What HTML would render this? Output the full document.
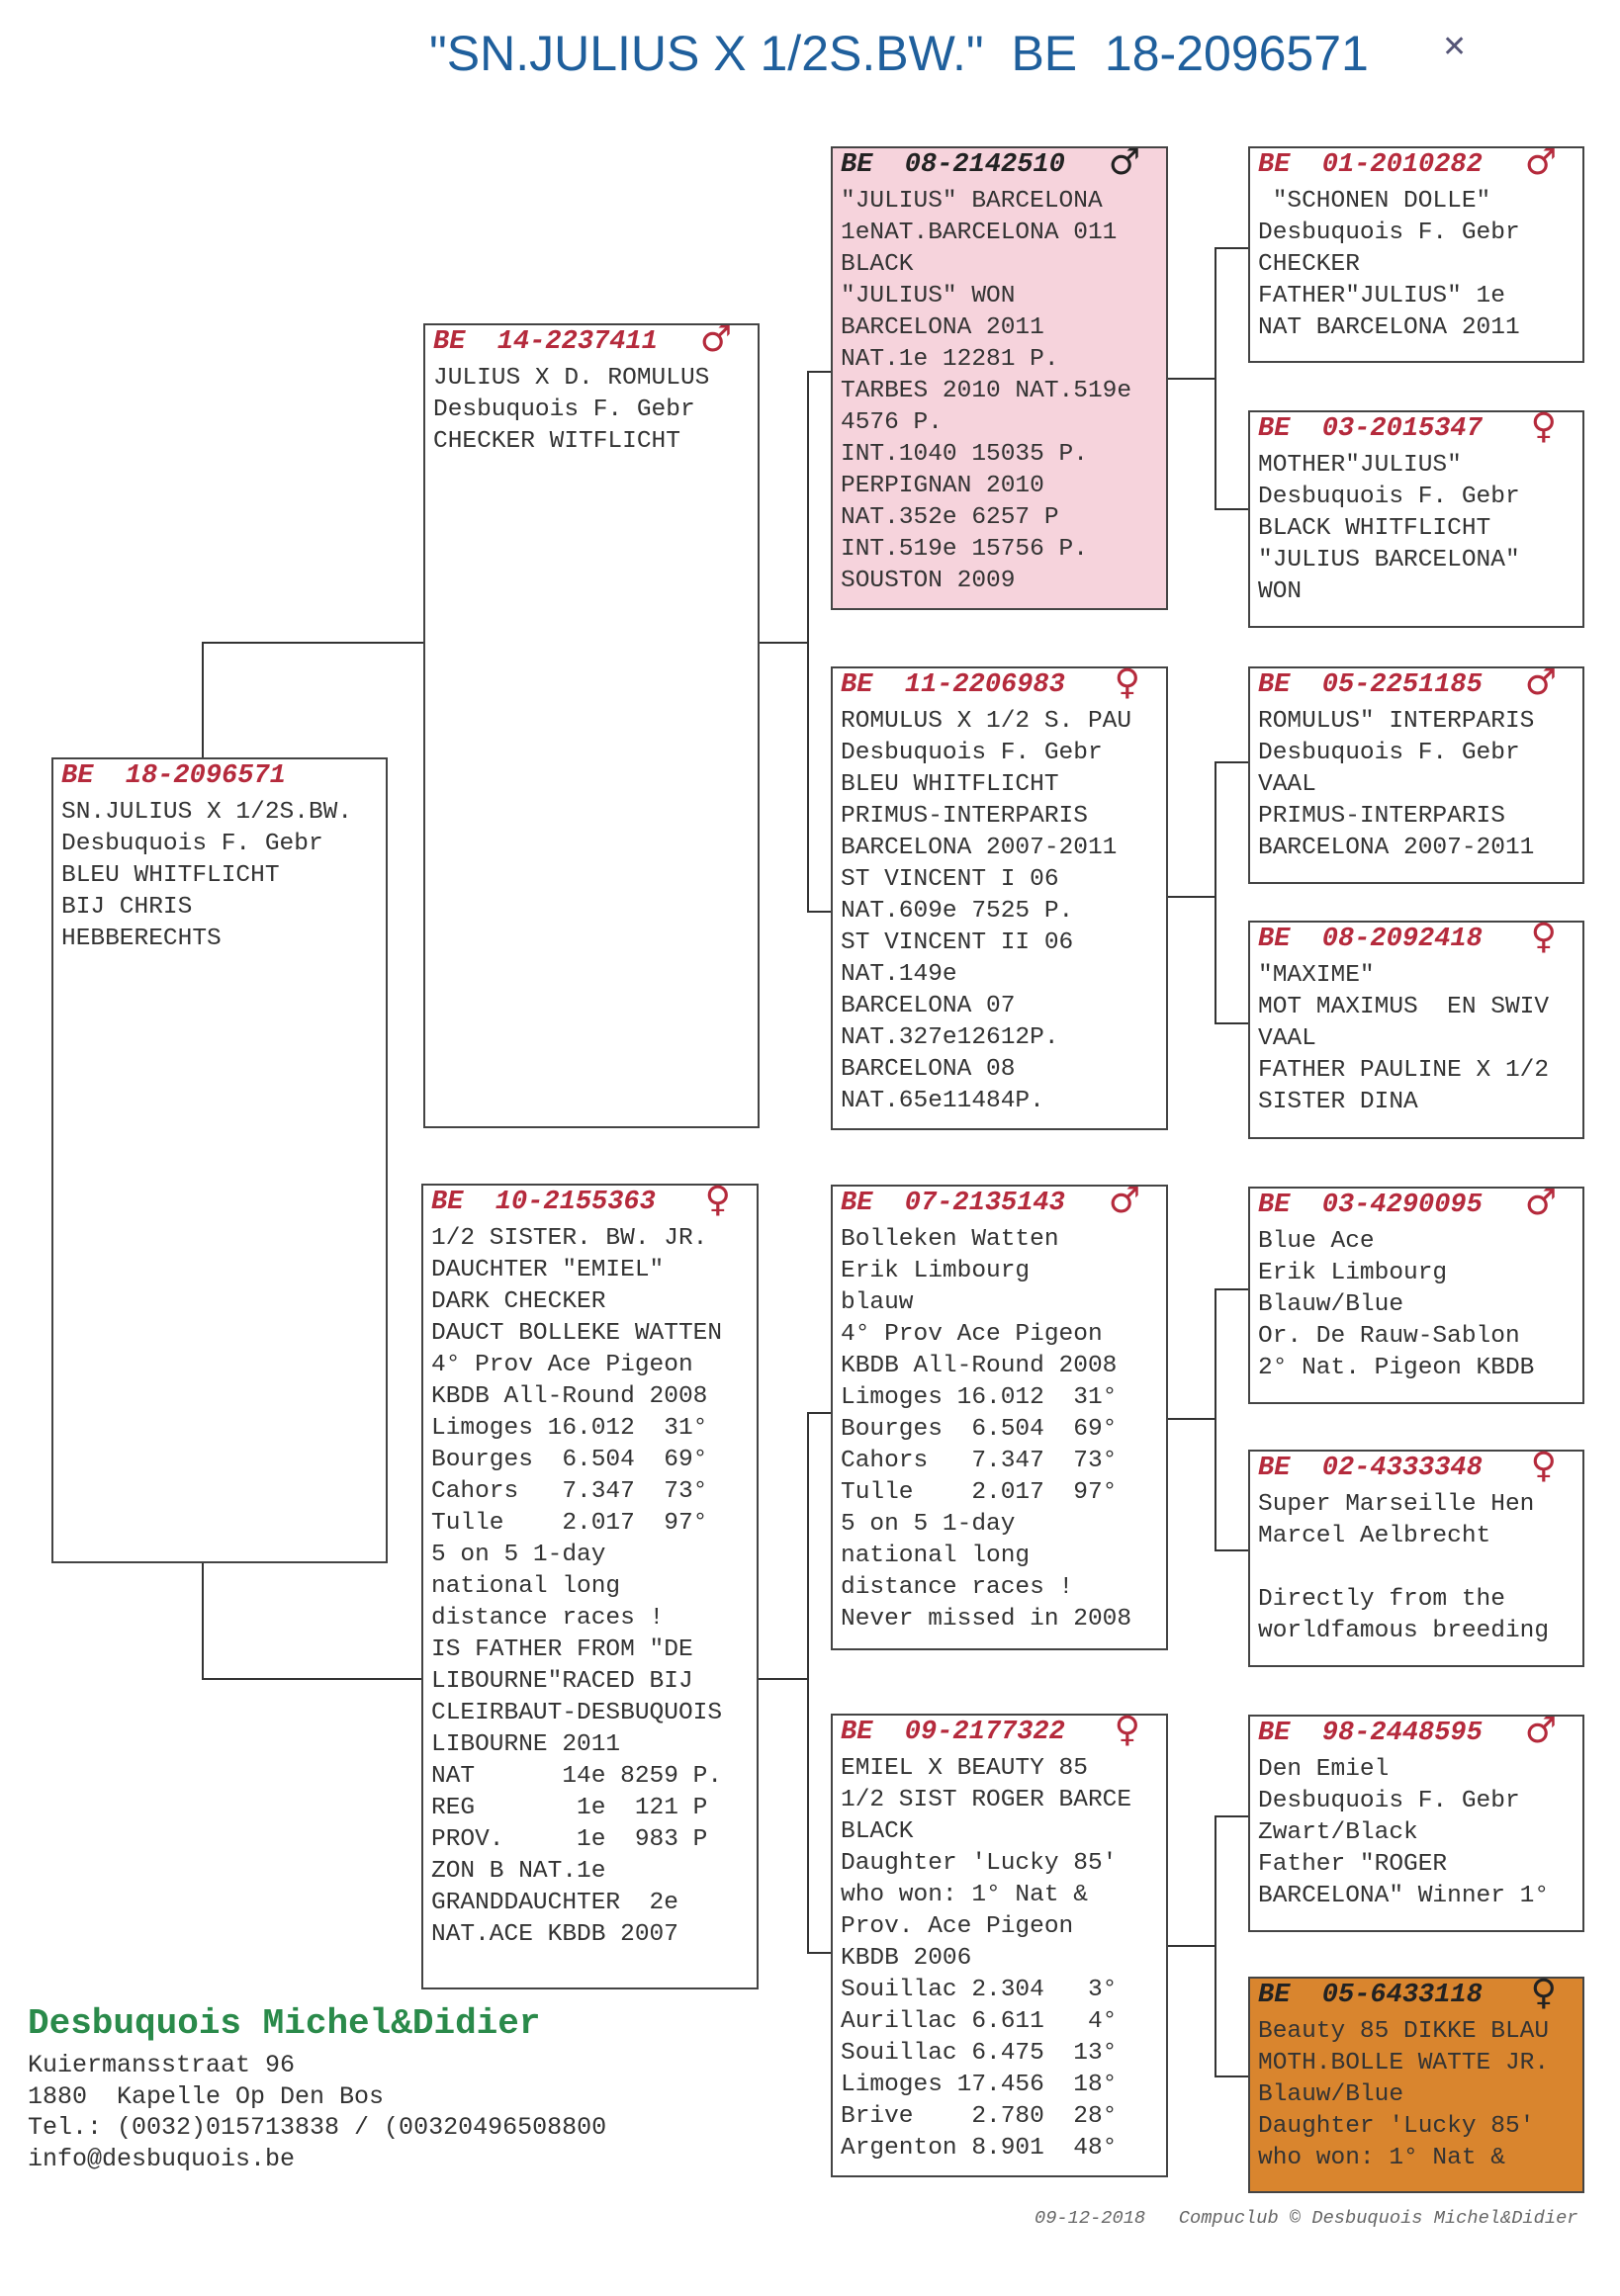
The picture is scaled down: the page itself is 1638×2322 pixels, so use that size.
<!DOCTYPE html>
<html><head><meta charset="utf-8"><style>
body{margin:0;width:1638px;height:2322px;background:#fff;position:relative;overflow:hidden;font-family:"Liberation Mono",monospace;color:#333}
.b{position:absolute;border:2px solid #444;box-sizing:border-box;padding:0 0 0 8px;font-size:24.5px;line-height:32px;white-space:pre;background:#fff;z-index:2}
.h{color:#b52a3c;font-weight:bold;font-style:italic;height:38px;line-height:34px;position:relative;font-size:27px}
.h .s{position:absolute;right:26px;top:-2px;font-style:normal;font-weight:bold;font-size:36px;font-family:"DejaVu Sans",sans-serif}
.ln{position:absolute;background:#333;z-index:1}
.pink{background:#f6d3dc}.orange{background:#d9852e}
.orange .h,.pink .h{color:#222}
</style></head><body>
<div style="position:absolute;left:434px;top:25px;font-family:'Liberation Sans',sans-serif;font-size:50px;color:#1f5f9c;white-space:pre">"SN.JULIUS X 1/2S.BW."  BE  18-2096571</div>
<div style="position:absolute;left:1458px;top:30px;font-size:30px;color:#557;font-family:'Liberation Sans',sans-serif">✕</div>

<div class="ln" style="left:204px;top:649px;width:2px;height:1049px"></div>
<div class="ln" style="left:204px;top:649px;width:224px;height:2px"></div>
<div class="ln" style="left:204px;top:1697px;width:224px;height:2px"></div>
<div class="ln" style="left:816px;top:375px;width:2px;height:547px"></div>
<div class="ln" style="left:767px;top:649px;width:50px;height:2px"></div>
<div class="ln" style="left:816px;top:375px;width:24px;height:2px"></div>
<div class="ln" style="left:816px;top:921px;width:24px;height:2px"></div>
<div class="ln" style="left:816px;top:1428px;width:2px;height:547px"></div>
<div class="ln" style="left:766px;top:1697px;width:50px;height:2px"></div>
<div class="ln" style="left:816px;top:1428px;width:24px;height:2px"></div>
<div class="ln" style="left:816px;top:1974px;width:24px;height:2px"></div>
<div class="ln" style="left:1228px;top:250px;width:2px;height:265px"></div>
<div class="ln" style="left:1180px;top:382px;width:48px;height:2px"></div>
<div class="ln" style="left:1228px;top:250px;width:34px;height:2px"></div>
<div class="ln" style="left:1228px;top:514px;width:34px;height:2px"></div>
<div class="ln" style="left:1228px;top:770px;width:2px;height:265px"></div>
<div class="ln" style="left:1180px;top:906px;width:48px;height:2px"></div>
<div class="ln" style="left:1228px;top:770px;width:34px;height:2px"></div>
<div class="ln" style="left:1228px;top:1034px;width:34px;height:2px"></div>
<div class="ln" style="left:1228px;top:1303px;width:2px;height:265px"></div>
<div class="ln" style="left:1180px;top:1434px;width:48px;height:2px"></div>
<div class="ln" style="left:1228px;top:1303px;width:34px;height:2px"></div>
<div class="ln" style="left:1228px;top:1567px;width:34px;height:2px"></div>
<div class="ln" style="left:1228px;top:1836px;width:2px;height:264px"></div>
<div class="ln" style="left:1180px;top:1967px;width:48px;height:2px"></div>
<div class="ln" style="left:1228px;top:1836px;width:34px;height:2px"></div>
<div class="ln" style="left:1228px;top:2099px;width:34px;height:2px"></div>

<div class="b" style="left:52px;top:766px;width:340px;height:815px"><div class="h">BE  18-2096571</div>SN.JULIUS X 1/2S.BW.
Desbuquois F. Gebr
BLEU WHITFLICHT
BIJ CHRIS
HEBBERECHTS</div>

<div class="b" style="left:428px;top:327px;width:340px;height:814px"><div class="h">BE  14-2237411<span class="s">♂</span></div>JULIUS X D. ROMULUS
Desbuquois F. Gebr
CHECKER WITFLICHT</div>

<div class="b" style="left:426px;top:1197px;width:341px;height:815px"><div class="h">BE  10-2155363<span class="s">♀</span></div>1/2 SISTER. BW. JR.
DAUCHTER "EMIEL"
DARK CHECKER
DAUCT BOLLEKE WATTEN
4° Prov Ace Pigeon
KBDB All-Round 2008
Limoges 16.012  31°
Bourges  6.504  69°
Cahors   7.347  73°
Tulle    2.017  97°
5 on 5 1-day
national long
distance races !
IS FATHER FROM "DE
LIBOURNE"RACED BIJ
CLEIRBAUT-DESBUQUOIS
LIBOURNE 2011
NAT      14e 8259 P.
REG       1e  121 P
PROV.     1e  983 P
ZON B NAT.1e
GRANDDAUCHTER  2e
NAT.ACE KBDB 2007</div>

<div class="b pink" style="left:840px;top:148px;width:341px;height:469px"><div class="h">BE  08-2142510<span class="s">♂</span></div>"JULIUS" BARCELONA
1eNAT.BARCELONA 011
BLACK
"JULIUS" WON
BARCELONA 2011
NAT.1e 12281 P.
TARBES 2010 NAT.519e
4576 P.
INT.1040 15035 P.
PERPIGNAN 2010
NAT.352e 6257 P
INT.519e 15756 P.
SOUSTON 2009</div>

<div class="b" style="left:840px;top:674px;width:341px;height:469px"><div class="h">BE  11-2206983<span class="s">♀</span></div>ROMULUS X 1/2 S. PAU
Desbuquois F. Gebr
BLEU WHITFLICHT
PRIMUS-INTERPARIS
BARCELONA 2007-2011
ST VINCENT I 06
NAT.609e 7525 P.
ST VINCENT II 06
NAT.149e
BARCELONA 07
NAT.327e12612P.
BARCELONA 08
NAT.65e11484P.</div>

<div class="b" style="left:840px;top:1198px;width:341px;height:471px"><div class="h">BE  07-2135143<span class="s">♂</span></div>Bolleken Watten
Erik Limbourg
blauw
4° Prov Ace Pigeon
KBDB All-Round 2008
Limoges 16.012  31°
Bourges  6.504  69°
Cahors   7.347  73°
Tulle    2.017  97°
5 on 5 1-day
national long
distance races !
Never missed in 2008</div>

<div class="b" style="left:840px;top:1733px;width:341px;height:469px"><div class="h">BE  09-2177322<span class="s">♀</span></div>EMIEL X BEAUTY 85
1/2 SIST ROGER BARCE
BLACK
Daughter 'Lucky 85'
who won: 1° Nat &amp;
Prov. Ace Pigeon
KBDB 2006
Souillac 2.304   3°
Aurillac 6.611   4°
Souillac 6.475  13°
Limoges 17.456  18°
Brive    2.780  28°
Argenton 8.901  48°</div>

<div class="b" style="left:1262px;top:148px;width:340px;height:219px"><div class="h">BE  01-2010282<span class="s">♂</span></div> "SCHONEN DOLLE"
Desbuquois F. Gebr
CHECKER
FATHER"JULIUS" 1e
NAT BARCELONA 2011</div>
<div class="b" style="left:1262px;top:415px;width:340px;height:220px"><div class="h">BE  03-2015347<span class="s">♀</span></div>MOTHER"JULIUS"
Desbuquois F. Gebr
BLACK WHITFLICHT
"JULIUS BARCELONA"
WON</div>
<div class="b" style="left:1262px;top:674px;width:340px;height:220px"><div class="h">BE  05-2251185<span class="s">♂</span></div>ROMULUS" INTERPARIS
Desbuquois F. Gebr
VAAL
PRIMUS-INTERPARIS
BARCELONA 2007-2011</div>
<div class="b" style="left:1262px;top:931px;width:340px;height:221px"><div class="h">BE  08-2092418<span class="s">♀</span></div>"MAXIME"
MOT MAXIMUS  EN SWIV
VAAL
FATHER PAULINE X 1/2
SISTER DINA</div>
<div class="b" style="left:1262px;top:1200px;width:340px;height:220px"><div class="h">BE  03-4290095<span class="s">♂</span></div>Blue Ace
Erik Limbourg
Blauw/Blue
Or. De Rauw-Sablon
2° Nat. Pigeon KBDB</div>
<div class="b" style="left:1262px;top:1466px;width:340px;height:220px"><div class="h">BE  02-4333348<span class="s">♀</span></div>Super Marseille Hen
Marcel Aelbrecht

Directly from the
worldfamous breeding</div>
<div class="b" style="left:1262px;top:1734px;width:340px;height:220px"><div class="h">BE  98-2448595<span class="s">♂</span></div>Den Emiel
Desbuquois F. Gebr
Zwart/Black
Father "ROGER
BARCELONA" Winner 1°</div>
<div class="b orange" style="left:1262px;top:1999px;width:340px;height:219px"><div class="h">BE  05-6433118<span class="s">♀</span></div>Beauty 85 DIKKE BLAU
MOTH.BOLLE WATTE JR.
Blauw/Blue
Daughter 'Lucky 85'
who won: 1° Nat &amp;</div>

<div style="position:absolute;left:28px;top:2026px;font-size:36px;font-weight:bold;color:#2a8a4a;white-space:pre">Desbuquois Michel&amp;Didier</div>
<div style="position:absolute;left:28px;top:2073px;font-size:25px;line-height:31.5px;white-space:pre;color:#333">Kuiermansstraat 96
1880  Kapelle Op Den Bos
Tel.: (0032)015713838 / (00320496508800
info@desbuquois.be</div>
<div style="position:absolute;left:1046px;top:2232px;font-size:18.7px;font-style:italic;color:#666;white-space:pre">09-12-2018   Compuclub © Desbuquois Michel&amp;Didier</div>
</body></html>
